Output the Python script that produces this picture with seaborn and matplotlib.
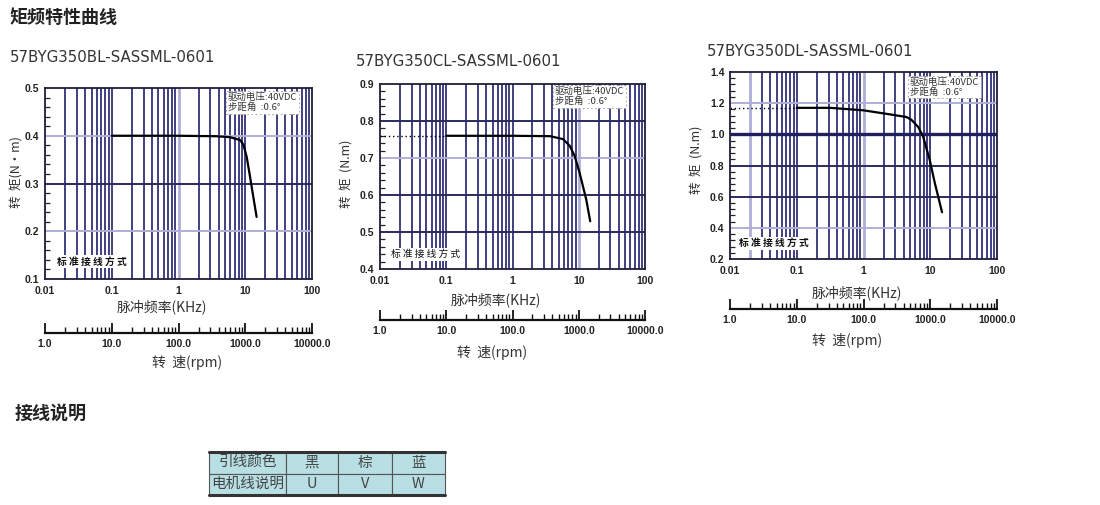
import matplotlib
matplotlib.use("Agg")
import matplotlib.pyplot as plt
import seaborn as sns
import pandas as pd
from matplotlib.ticker import FixedLocator, FixedFormatter, NullFormatter

sns.set_theme(style="white")
plt.rcParams["font.family"] = ["Noto Sans CJK SC", "DejaVu Sans"]
plt.rcParams["axes.unicode_minus"] = False

# ---------------- data ----------------
page_title = "矩频特性曲线"
wiring_title = "接线说明"
model_names = ["57BYG350BL-SASSML-0601", "57BYG350CL-SASSML-0601", "57BYG350DL-SASSML-0601"]

freq_b = [0.1, 1.0, 3.7, 5.9, 8.4, 9.4, 10.5, 11.8, 13.2, 14.8]
torque_b = [0.400, 0.400, 0.399, 0.397, 0.391, 0.381, 0.356, 0.314, 0.272, 0.230]

freq_c = [0.1, 1.0, 3.7, 5.8, 7.3, 8.7, 10.3, 13.0, 14.9]
torque_c = [0.760, 0.760, 0.759, 0.751, 0.733, 0.705, 0.660, 0.587, 0.529]

freq_d = [0.1, 0.32, 1.0, 2.5, 4.4, 5.2, 6.6, 7.8, 9.8, 11.7, 13.9, 15.0]
torque_d = [1.170, 1.170, 1.154, 1.128, 1.111, 1.094, 1.047, 0.987, 0.837, 0.688, 0.559, 0.500]

dotted_freq = [0.01, 0.1]
dotted_c = [0.760, 0.760]
dotted_d = [1.170, 1.170]

freq_ticks = [0.01, 0.1, 1, 10, 100]
freq_labels = ["0.01", "0.1", "1", "10", "100"]
rpm_ticks = [1, 10, 100, 1000, 10000]
rpm_labels = ["1.0", "10.0", "100.0", "1000.0", "10000.0"]

yticks_b = [0.1, 0.2, 0.3, 0.4, 0.5]
yticks_c = [0.4, 0.5, 0.6, 0.7, 0.8, 0.9]
yticks_d = [0.2, 0.4, 0.6, 0.8, 1.0, 1.2, 1.4]
ylabels_b = ["0.1", "0.2", "0.3", "0.4", "0.5"]
ylabels_c = ["0.4", "0.5", "0.6", "0.7", "0.8", "0.9"]
ylabels_d = ["0.2", "0.4", "0.6", "0.8", "1.0", "1.2", "1.4"]

note_text = "驱动电压:40VDC\n步距角  :0.6°"
wiring_note = "标 准 接 线 方 式"
xlabel_text = "脉冲频率(KHz)"
rpm_label_text = "转  速(rpm)"
ylabel_b = "转  矩(N·m)"
ylabel_cd = "转  矩  (N.m)"

table_rows = ["引线颜色", "电机线说明"]
lead_colors = ["黑", "棕", "蓝"]
phase_names = ["U", "V", "W"]

# ---------------- styling ----------------
W, H = 1100, 505
fig = plt.figure(figsize=(W / 100, H / 100), dpi=100)
fig.patch.set_facecolor("white")

NAVY = "#32327a"
LIGHT = "#aeaed8"
HDARK = "#2a2a5c"
TXT = "#222222"


def px_box(l, t, r, b):
    return [l / W, 1 - b / H, (r - l) / W, (b - t) / H]


charts = [
    dict(name=model_names[0], f=freq_b, t=torque_b, dot=None,
         ylim=(0.1, 0.5), yt=yticks_b, yl=ylabels_b, minor_step=0.02,
         box=(45, 88, 312, 279), rpm_y=333,
         light_h=[0.2, 0.4], thick_h=[], light_v=[1.0],
         title_xy=(10, 58), ylab=ylabel_b, ylab_xy=(17, 172),
         xlab_xy=(162, 307), rpm_lab_xy=(187, 362),
         note_xy=(0.685, 0.975), wn_xy=(0.045, 0.09), wn_bold=True),
    dict(name=model_names[1], f=freq_c, t=torque_c, dot=dotted_c,
         ylim=(0.4, 0.9), yt=yticks_c, yl=ylabels_c, minor_step=0.02,
         box=(380, 84, 645, 269), rpm_y=320,
         light_h=[0.7], thick_h=[], light_v=[10.0],
         title_xy=(356, 61), ylab=ylabel_cd, ylab_xy=(347, 174),
         xlab_xy=(496, 300), rpm_lab_xy=(492, 353),
         note_xy=(0.66, 0.985), wn_xy=(0.04, 0.08), wn_bold=False),
    dict(name=model_names[2], f=freq_d, t=torque_d, dot=dotted_d,
         ylim=(0.2, 1.4), yt=yticks_d, yl=ylabels_d, minor_step=0.04,
         box=(730, 72, 997, 259), rpm_y=309,
         light_h=[0.4, 1.2], thick_h=[1.0], light_v=[0.02, 1.0],
         title_xy=(707, 52), ylab=ylabel_cd, ylab_xy=(697, 160),
         xlab_xy=(857, 293), rpm_lab_xy=(847, 340),
         note_xy=(0.674, 0.97), wn_xy=(0.032, 0.085), wn_bold=True),
]

decades = [0.01, 0.1, 1, 10]
minor_freqs = [m * d for d in decades for m in range(2, 10)]
inner_decades = [0.1, 1, 10]

for c in charts:
    l, t, r, b = c["box"]
    ax = fig.add_axes(px_box(l, t, r, b))
    ax.set_facecolor("white")
    ax.set_xscale("log")
    ax.set_xlim(0.01, 100)
    ax.set_ylim(*c["ylim"])

    # vertical grid
    for v in minor_freqs + inner_decades:
        is_light = any(abs(v - lv) < 1e-9 for lv in c["light_v"])
        ax.axvline(v, color=LIGHT if is_light else NAVY,
                   lw=2.0 if is_light else 1.3, zorder=1)
    # horizontal grid
    for h in c["yt"][1:-1]:
        if any(abs(h - x) < 1e-9 for x in c["thick_h"]):
            ax.axhline(h, color="#20205e", lw=2.4, zorder=1.5)
        elif any(abs(h - x) < 1e-9 for x in c["light_h"]):
            ax.axhline(h, color=LIGHT, lw=1.4, zorder=1.2)
        else:
            ax.axhline(h, color=HDARK, lw=1.4, zorder=1.5)

    df = pd.DataFrame({"f": c["f"], "t": c["t"]})
    sns.lineplot(data=df, x="f", y="t", ax=ax, color="black", lw=1.6,
                 sort=False, zorder=5)
    if c["dot"] is not None:
        dd = pd.DataFrame({"f": dotted_freq, "t": c["dot"]})
        sns.lineplot(data=dd, x="f", y="t", ax=ax, color="black", lw=1.0,
                     linestyle=(0, (1, 2)), sort=False, zorder=5)
    ax.set_xlabel("")
    ax.set_ylabel("")

    ax.xaxis.set_major_locator(FixedLocator(freq_ticks))
    ax.xaxis.set_major_formatter(FixedFormatter(freq_labels))
    ax.xaxis.set_minor_locator(FixedLocator(minor_freqs))
    ax.xaxis.set_minor_formatter(NullFormatter())
    ax.tick_params(axis="x", which="both", length=0, pad=5)

    ylo, yhi = c["ylim"]
    n = int(round((yhi - ylo) / c["minor_step"]))
    ax.yaxis.set_major_locator(FixedLocator(c["yt"]))
    ax.yaxis.set_major_formatter(FixedFormatter(c["yl"]))
    ax.yaxis.set_minor_locator(FixedLocator([ylo + i * c["minor_step"] for i in range(n + 1)]))
    ax.tick_params(axis="y", which="major", direction="in", left=True, length=0, pad=4)
    ax.tick_params(axis="y", which="minor", direction="in", left=True, length=3.5,
                   width=0.9, color="#222")
    for lab in ax.get_xticklabels() + ax.get_yticklabels():
        lab.set_fontfamily(["Liberation Sans", "DejaVu Sans"])
        lab.set_fontweight("bold")
        lab.set_fontsize(7.5)
        lab.set_color(TXT)
    for s in ax.spines.values():
        s.set_color("#1e1e3a")
        s.set_linewidth(1.3)
        s.set_zorder(6)

    ax.text(c["note_xy"][0], c["note_xy"][1], note_text, transform=ax.transAxes,
            ha="left", va="top", fontsize=6.8, color="#333", linespacing=1.0, zorder=7,
            bbox=dict(boxstyle="square,pad=0.2", fc="white", ec="#999", lw=0.6, ls=(0, (2, 3))))
    ax.text(c["wn_xy"][0], c["wn_xy"][1], wiring_note, transform=ax.transAxes,
            ha="left", va="center", fontsize=7, color="#111", zorder=7,
            fontweight="bold" if c["wn_bold"] else "normal",
            bbox=dict(boxstyle="square,pad=0.15", fc="white", ec="none"))

    # rpm axis
    rax = fig.add_axes([l / W, 1 - c["rpm_y"] / H, (r - l) / W, 0.02])
    rax.set_facecolor("none")
    rax.set_xscale("log")
    rax.set_xlim(1, 10000)
    rax.set_yticks([])
    for k in ["top", "left", "right"]:
        rax.spines[k].set_visible(False)
    rax.spines["bottom"].set_color("#111")
    rax.spines["bottom"].set_linewidth(1.6)
    rax.xaxis.set_major_locator(FixedLocator(rpm_ticks))
    rax.xaxis.set_major_formatter(FixedFormatter(rpm_labels))
    rax.xaxis.set_minor_locator(FixedLocator([m * d for d in [1, 10, 100, 1000] for m in range(2, 10)]))
    rax.xaxis.set_minor_formatter(NullFormatter())
    rax.tick_params(axis="x", which="major", direction="in", bottom=True, length=7,
                    width=1.3, color="#111", pad=4)
    rax.tick_params(axis="x", which="minor", direction="in", bottom=True, length=4,
                    width=1.0, color="#111")
    for lab in rax.get_xticklabels():
        lab.set_fontfamily(["Liberation Sans", "DejaVu Sans"])
        lab.set_fontweight("bold")
        lab.set_fontsize(7.5)
        lab.set_color(TXT)

    # texts
    fig.text(c["title_xy"][0] / W, 1 - c["title_xy"][1] / H, c["name"], ha="left", va="center",
             fontsize=10.8, color="#333", family=["DejaVu Sans"])
    fig.text(c["ylab_xy"][0] / W, 1 - c["ylab_xy"][1] / H, c["ylab"], rotation=90,
             ha="center", va="center", fontsize=9, color="#333")
    fig.text(c["xlab_xy"][0] / W, 1 - c["xlab_xy"][1] / H, xlabel_text, ha="center", va="center",
             fontsize=10, color="#333")
    fig.text(c["rpm_lab_xy"][0] / W, 1 - c["rpm_lab_xy"][1] / H, rpm_label_text, ha="center",
             va="center", fontsize=10, color="#333")

fig.text(10 / W, 1 - 17 / H, page_title, ha="left", va="center", fontsize=13,
         fontweight="bold", color="#222")
fig.text(15 / W, 1 - 413 / H, wiring_title, ha="left", va="center", fontsize=13,
         fontweight="bold", color="#222")

# table
tax = fig.add_axes(px_box(209, 452, 445, 495))
tax.axis("off")
cells = [[table_rows[0]] + lead_colors, [table_rows[1]] + phase_names]
col_w = [77, 52, 54, 53]
tot = sum(col_w)
tbl = tax.table(cellText=cells, bbox=[0, 0, 1, 1], cellLoc="center",
                colWidths=[w / tot for w in col_w])
tbl.auto_set_font_size(False)
for (i, j), cell in tbl.get_celld().items():
    cell.set_facecolor("#b7dfe4")
    cell.set_edgecolor("#555")
    cell.set_linewidth(0.8)
    cell.get_text().set_fontsize(10.5)
    cell.get_text().set_color("#444")
tax.axhline(1, color="#333", lw=2.2, clip_on=False)
tax.axhline(0, color="#333", lw=2.2, clip_on=False)

fig.savefig("out.png", dpi=100, facecolor="white")
